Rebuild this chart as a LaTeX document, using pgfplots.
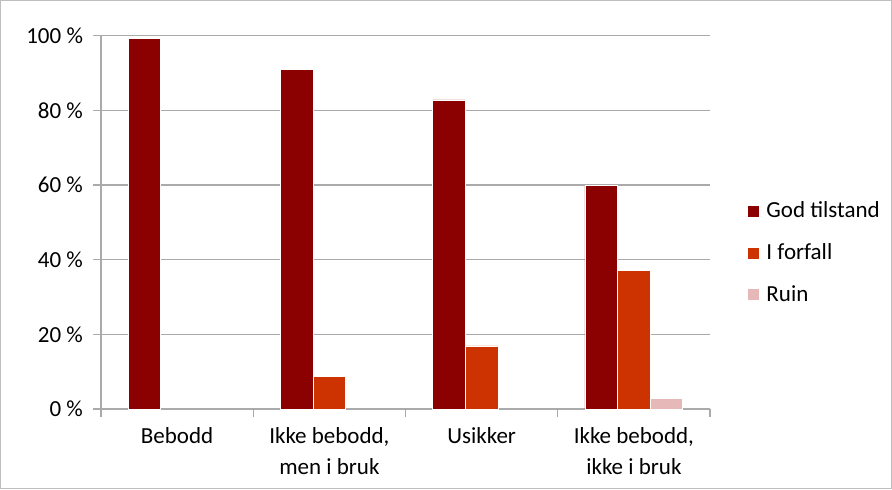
\documentclass[border=0pt]{standalone}
\usepackage{fontspec}
\setmainfont{Carlito}
\usepackage{pgfplots}
\pgfplotsset{compat=1.18}
\definecolor{c1}{RGB}{139,0,0}
\definecolor{c2}{RGB}{204,51,0}
\definecolor{c3}{RGB}{230,184,183}
\definecolor{gl}{RGB}{170,170,170}
\definecolor{fr}{RGB}{190,190,190}
\begin{document}
\begin{tikzpicture}
\begin{axis}[
  scale only axis, width=304.5pt, height=186.65pt,
  xmin=-0.5, xmax=3.5, ymin=0, ymax=100,
  ybar=0pt, bar width=16.3pt,
  axis lines*=left, axis line style={gl, line width=0.6pt},
  /pgf/number format/assume math mode=true,
  font=\fontsize{11.5}{15.5}\selectfont,
  ytick={0,20,40,60,80,100},
  yticklabel={\pgfmathprintnumber{\tick}~\%},
  yticklabel style={xshift=-1.5pt},
  ymajorgrids, grid style={gl, line width=0.6pt},
  xtick={0,1,2,3},
  xticklabels={Bebodd,{Ikke bebodd,\\men i bruk},Usikker,{Ikke bebodd,\\ikke i bruk}},
  xticklabel style={align=center, anchor=north, yshift=-1.8pt},
  major x tick style={draw=none},
  minor xtick={-0.5,0.5,1.5,2.5,3.5},
  tick align=outside, major tick length=4pt, minor tick length=4pt,
  tick style={gl, line width=0.6pt},
  legend style={draw=none, at={(1.052,0.418)}, anchor=west, row sep=7.5pt,
    font=\fontsize{11.5}{14}\selectfont},
  legend cell align=left,
  legend image code/.code={\fill[#1,draw=none] (0pt,-2.75pt) rectangle (5.5pt,2.75pt);
    \path (7pt,0pt);},
  every axis plot/.append style={draw=white, line width=0.4pt},
]
\addplot[fill=c1] coordinates {(0,99.3) (1,90.9) (2,82.8) (3,59.8)};
\addlegendentry{God tilstand}
\addplot[fill=c2] coordinates {(1,8.8) (2,16.9) (3,37.0)};
\addlegendentry{I forfall}
\addplot[fill=c3] coordinates {(3,2.9)};
\addlegendentry{Ruin}
\coordinate (O) at (rel axis cs:0,0);
\end{axis}
\draw[fr, line width=0.6pt] ([shift={(-50.2pt,-39.7pt)}]O) rectangle ++(445.4pt,243.9pt);
\pgfresetboundingbox
\path ([shift={(-50.5pt,-40pt)}]O) rectangle ++(446pt,244.5pt);
\end{tikzpicture}
\end{document}
